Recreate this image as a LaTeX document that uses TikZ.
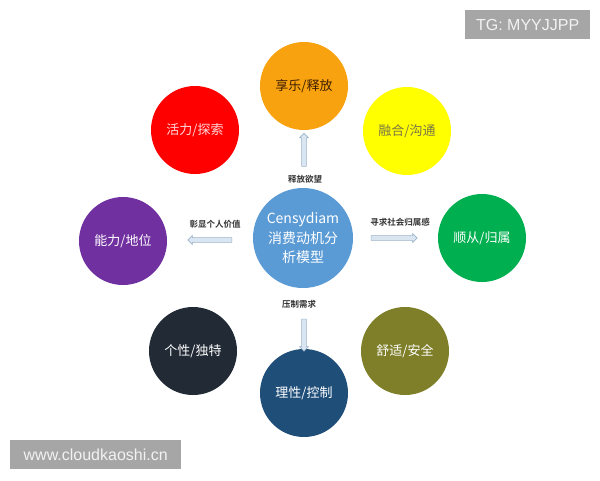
\documentclass[tikz,border=0pt]{standalone}
\usepackage{fontspec}
\setmainfont{Liberation Sans}
\newfontfamily\cjk{Noto Sans CJK SC}
\newfontfamily\cjkb{Noto Sans CJK SC Bold}
\usetikzlibrary{shapes.arrows}
\definecolor{cOrange}{HTML}{F7A20E}
\definecolor{cYellow}{HTML}{FFFF00}
\definecolor{cRed}{HTML}{FF0000}
\definecolor{cPurple}{HTML}{7030A0}
\definecolor{cBlue}{HTML}{5B9BD5}
\definecolor{cGreen}{HTML}{00B050}
\definecolor{cNavy}{HTML}{222A35}
\definecolor{cOlive}{HTML}{7F7F2A}
\definecolor{cDeep}{HTML}{1F4E79}
\definecolor{arrFill}{HTML}{D9E6F2}
\definecolor{arrDraw}{HTML}{9DB3C8}
\definecolor{wmGray}{HTML}{A6A6A6}
\tikzset{
  ball/.style={circle, minimum size=88pt, inner sep=0pt, font=\cjk\fontsize{13}{15}\selectfont, text=white},
  fatarrow/.style={single arrow, fill=arrFill, draw=arrDraw, line width=0.6pt,
    minimum width=9pt, single arrow head extend=1.8pt, single arrow head indent=0pt, inner sep=1.6pt},
  lbl/.style={font=\cjkb\fontsize{8.5}{10}\selectfont, text=black!80},
  wm/.style={fill=wmGray, text=white!95!black, font=\fontsize{16}{19}\selectfont, inner sep=0pt, anchor=north west}
}
\begin{document}
\begin{tikzpicture}[x=1pt,y=-1pt]
\useasboundingbox[fill=white] (0,0) rectangle (600,480);
\node[ball, fill=cBlue, minimum size=100pt, align=center, font=\cjk\fontsize{14}{19.5}\selectfont] (c) at (303,238) {Censydiam\\消费动机分\\析模型};
\node[ball, fill=cOrange, text=black!75!orange] (o) at (304,86) {享乐/释放};
\node[ball, fill=cYellow, text=black!60!yellow] (y) at (407,131) {融合/沟通};
\node[ball, fill=cRed, text=red!15!white] (r) at (195,130) {活力/探索};
\node[ball, fill=cPurple] (p) at (123,241) {能力/地位};
\node[ball, fill=cGreen] (g) at (482,238) {顺从/归属};
\node[ball, fill=cNavy] (n) at (193,351) {个性/独特};
\node[ball, fill=cOlive] (ol) at (405,351) {舒适/安全};
\node[ball, fill=cDeep] (d) at (304,393) {理性/控制};
% arrows
\node[fatarrow, minimum height=33pt, shape border rotate=90] (au) at (304,151) {};
\node[fatarrow, minimum height=46pt, shape border rotate=0] (ar) at (393,238) {};
\node[fatarrow, minimum height=44pt, shape border rotate=180] (al) at (211,240) {};
\node[fatarrow, minimum height=32pt, shape border rotate=270] (ad) at (304,334) {};
% labels
\node[lbl] (lu) at (305,179) {释放欲望};
\node[lbl] (lr) at (400,222) {寻求社会归属感};
\node[lbl] (ll) at (215,224) {彰显个人价值};
\node[lbl] (ld) at (299,304) {压制需求};
% watermarks
\node[wm, minimum width=125pt, minimum height=29pt] (w1) at (465,10) {TG: MYYJJPP};
\node[wm, minimum width=171pt, minimum height=29pt] (w2) at (10,440) {www.cloudkaoshi.cn};
\end{tikzpicture}
\end{document}
